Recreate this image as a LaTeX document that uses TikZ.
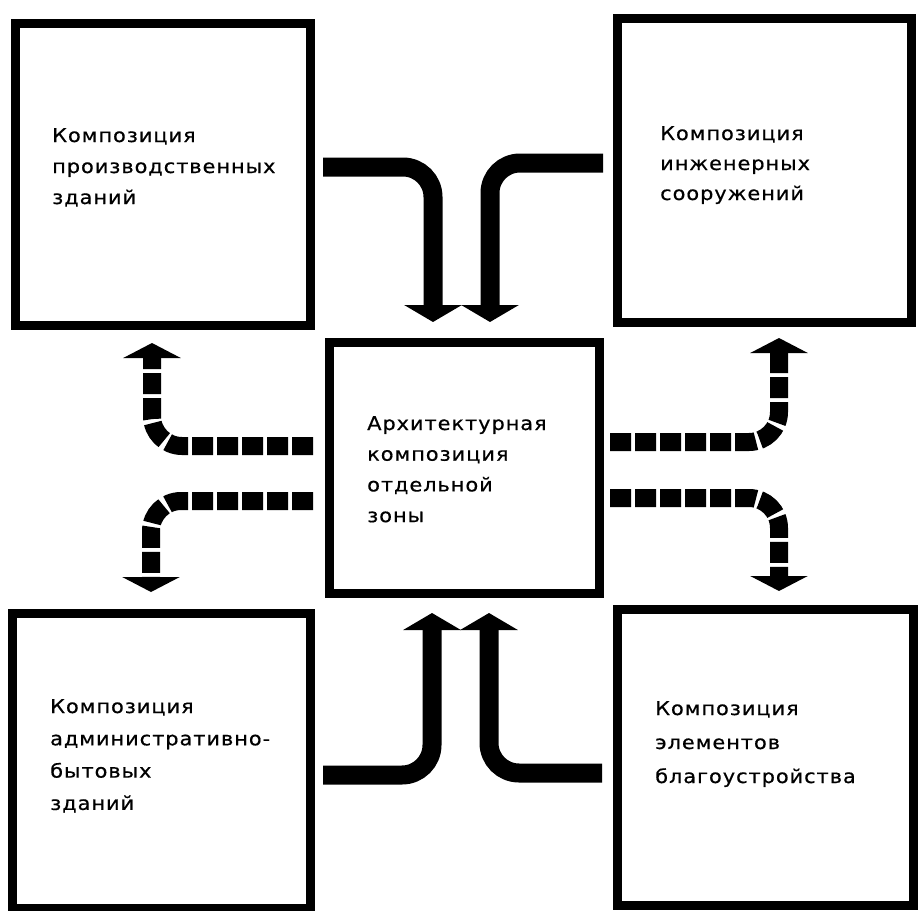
\documentclass[tikz,border=0pt]{standalone}
\usepackage{fontspec}
\newfontfamily\labfont{DejaVu Sans}[FakeStretch=1.1,LetterSpace=5,FakeBold=0.6]
\usetikzlibrary{arrows.meta}
\begin{document}
\begin{tikzpicture}[x=1pt,y=-1pt,
  boxnode/.style={draw,line width=9pt,inner sep=0pt,outer sep=0pt},
  lab/.style={anchor=base west,inner sep=0pt,align=left,text width=280pt,font=\labfont\fontsize{19}{#1}\selectfont},
  lab/.default=31,
  solidarrow/.style={line width=19pt,rounded corners=30pt,-{Triangle[length=17pt,width=57pt]}},
  dasharrow/.style={line width=18pt,rounded corners=30pt,dash pattern=on 21pt off 4pt,-{Triangle[length=15pt,width=57pt]}}]
\useasboundingbox (0,0) rectangle (918,910);
% boxes
\node[boxnode,minimum width=295pt,minimum height=302pt] (tl) at (162.5,174) {};
\node[boxnode,minimum width=294pt,minimum height=304pt] (tr) at (764,170) {};
\node[boxnode,minimum width=298pt,minimum height=295pt] (bl) at (161,760.5) {};
\node[boxnode,minimum width=296pt,minimum height=296pt] (br) at (765,757) {};
\node[boxnode,minimum width=270pt,minimum height=251pt] (cc) at (464,467.5) {};
% labels
\node[lab=31] (tltext) at (52,142) {Композиция\\производственных\\зданий};
\node[lab=30] (trtext) at (660,140) {Композиция\\инженерных\\сооружений};
\node[lab=32.3] (bltext) at (50,713) {Композиция\\административно-\\бытовых\\зданий};
\node[lab=34] (brtext) at (655,715) {Композиция\\элементов\\благоустройства};
\node[lab=30.7] (cctext) at (367,430) {Архитектурная\\композиция\\отдельной\\зоны};
% solid arrow coordinates
\coordinate (s1) at (323,167); \coordinate (e1) at (433,322);
\coordinate (s2) at (603,163); \coordinate (e2) at (490,322);
\coordinate (s3) at (323,775); \coordinate (e3) at (432,613);
\coordinate (s4) at (602,773); \coordinate (e4) at (489,613);
\draw[solidarrow] (s1) -| (e1);
\draw[solidarrow] (s2) -| (e2);
\draw[solidarrow] (s3) -| (e3);
\draw[solidarrow] (s4) -| (e4);
% dashed arrow coordinates
\coordinate (d1s) at (313,446); \coordinate (d1e) at (152,343);
\coordinate (d2s) at (313,501); \coordinate (d2e) at (151,592);
\coordinate (d3s) at (610,442); \coordinate (d3e) at (779,338);
\coordinate (d4s) at (610,498); \coordinate (d4e) at (779,591);
\draw[dasharrow] (d1s) -| (d1e);
\draw[dasharrow] (d2s) -| (d2e);
\draw[dasharrow] (d3s) -| (d3e);
\draw[dasharrow] (d4s) -| (d4e);
\end{tikzpicture}
\end{document}
